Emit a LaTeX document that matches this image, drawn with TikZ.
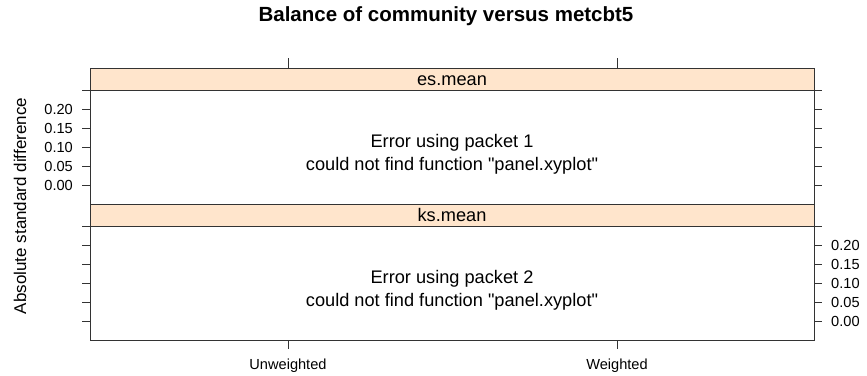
\documentclass[tikz,border=0pt]{standalone}
\usepackage{fontspec}
\setmainfont{Liberation Sans}[Ligatures=TeXOff]
\definecolor{stripbg}{HTML}{FFE5CC}
\definecolor{axisline}{HTML}{333333}

\begin{document}
\begin{tikzpicture}[x=1pt, y=-1pt,
    frame/.style={draw=axisline, line width=0.8pt},
    tick/.style={draw=axisline, line width=0.8pt},
    ticklab/.style={font=\fontsize{14.6}{16}\selectfont, inner sep=0pt},
    msg/.style={font=\fontsize{18.2}{20}\selectfont, inner sep=0pt, anchor=base}]

  \useasboundingbox (0,0) rectangle (867,375);

  % Panel geometry
  \def\L{90}
  \def\R{814}
  \def\xa{288}   % Unweighted
  \def\xb{617}   % Weighted

  % Strips
  \fill[stripbg] (\L,68) rectangle (\R,90);
  \fill[stripbg] (\L,204) rectangle (\R,226);

  % Panel frames
  \draw[frame] (\L,68) rectangle (\R,90);
  \draw[frame] (\L,90) rectangle (\R,204);
  \draw[frame] (\L,204) rectangle (\R,226);
  \draw[frame] (\L,226) rectangle (\R,340);

  % Title
  \node[font=\fontsize{20.5}{24}\bfseries, anchor=base, inner sep=0pt]
    (title) at (446,21) {Balance of community versus metcbt5};

  % Strip labels
  \node[msg] (esmean) at (452,85) {es.mean};
  \node[msg] (ksmean) at (452,221) {ks.mean};

  % Error messages
  \node[msg] (err1) at (452,147) {Error using packet 1};
  \node[msg] (fun1) at (452,170) {could not find function "panel.xyplot"};
  \node[msg] (err2) at (452,283) {Error using packet 2};
  \node[msg] (fun2) at (452,306) {could not find function "panel.xyplot"};

  % x ticks, top and bottom
  \foreach \x in {\xa,\xb} {
    \draw[tick] (\x,58) -- (\x,68);
    \draw[tick] (\x,340) -- (\x,349);
  }
  \node[ticklab, anchor=base] (unw) at (\xa,369) {Unweighted};
  \node[ticklab, anchor=base] (wei) at (\xb,369) {Weighted};

  % y ticks: 0.00 at 185 (upper) and 321 (lower), step 18.9
  \foreach \i in {0,...,5} {
    \draw[tick] (82,185-18.9*\i) -- (\L,185-18.9*\i);
    \draw[tick] (\R,185-18.9*\i) -- (822,185-18.9*\i);
    \draw[tick] (82,321-18.9*\i) -- (\L,321-18.9*\i);
    \draw[tick] (\R,321-18.9*\i) -- (822,321-18.9*\i);
  }
  \foreach \i/\lab in {0/0.00,1/0.05,2/0.10,3/0.15,4/0.20} {
    \node[ticklab, anchor=east] at (73,185-18.9*\i) {\lab};
    \node[ticklab, anchor=west] at (831,321-18.9*\i) {\lab};
  }

  % y axis title
  \node[font=\fontsize{17}{20}\selectfont, rotate=90, inner sep=0pt]
    (ylab) at (20,206) {Absolute standard difference};

\end{tikzpicture}
\end{document}
